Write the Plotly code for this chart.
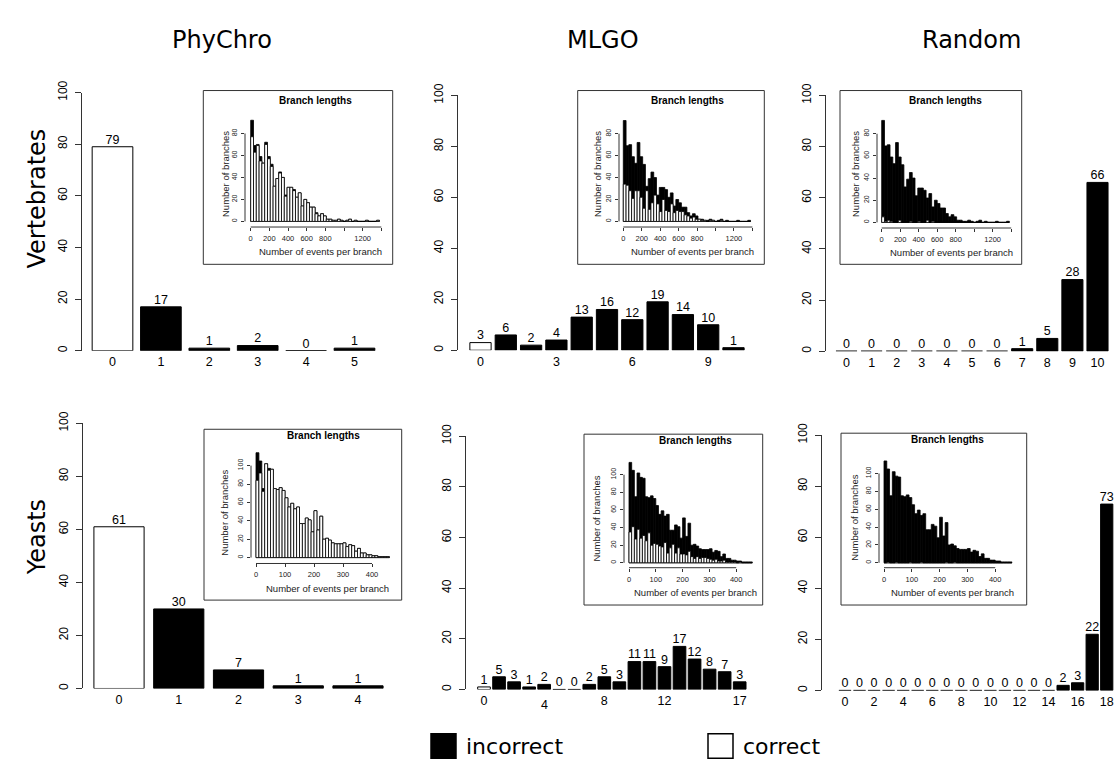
import numpy as np
import plotly.graph_objects as go

W, H = 1118, 770

# ---------------- data ----------------
col_titles = ["PhyChro", "MLGO", "Random"]
row_titles = ["Vertebrates", "Yeasts"]

phychro_vert = [79, 17, 1, 2, 0, 1]
mlgo_vert = [3, 6, 2, 4, 13, 16, 12, 19, 14, 10, 1]
random_vert = [0, 0, 0, 0, 0, 0, 0, 1, 5, 28, 66]
phychro_yeast = [61, 30, 7, 1, 1]
mlgo_yeast = [1, 5, 3, 1, 2, 0, 0, 2, 5, 3, 11, 11, 9, 17, 12, 8, 7, 3]
random_yeast = [0, 0, 0, 0, 0, 0, 0, 0, 0, 0, 0, 0, 0, 0, 0, 2, 3, 22, 73]

phychro_vert_ticks = ["0", "1", "2", "3", "4", "5"]
mlgo_vert_ticks = ["0", "", "", "3", "", "", "6", "", "", "9", ""]
random_vert_ticks = ["0", "1", "2", "3", "4", "5", "6", "7", "8", "9", "10"]
phychro_yeast_ticks = ["0", "1", "2", "3", "4"]
mlgo_yeast_ticks = ["0", "", "", "", "", "", "", "", "8", "", "", "", "12", "", "", "", "", "17"]
mlgo_yeast_low_tick = (4, "4")   # this label sits slightly lower in the original
random_yeast_ticks = ["0", "", "2", "", "4", "", "6", "", "8", "", "10", "", "12", "", "14", "", "16", "", "18"]

# inset histograms (branch lengths)
vert_bin_width = 30
vert_total = [92, 69, 70, 59, 53, 72, 59, 52, 32, 39, 45, 40, 24, 31, 31, 29, 22, 26, 14, 20,
              17, 13, 13, 8, 5, 7, 5, 2, 2, 1, 1, 2, 1, 0, 1, 2, 0, 1, 0, 0, 0, 1, 0, 0, 0, 1]
vert_correct_phychro = [77, 63, 69, 55, 53, 70, 57, 50, 32, 39, 44, 40, 23, 31, 31, 28, 22, 26, 14, 20,
                        17, 13, 13, 7, 5, 7, 5, 2, 2, 1, 1, 2, 1, 0, 1, 2, 0, 1, 0, 0, 0, 1, 0, 0, 0, 1]
vert_correct_mlgo = [34, 33, 28, 21, 28, 28, 22, 12, 28, 11, 17, 24, 16, 9, 20, 10, 9, 16, 8, 10,
                     9, 9, 6, 5, 3, 4, 2, 2, 1, 1, 0, 1, 1, 0, 0, 1, 0, 0, 0, 0, 0, 0, 0, 0, 0, 0]
vert_correct_random = [5, 1, 2, 1, 0, 0, 2, 0, 0, 0, 1, 0, 0, 1, 0, 0, 2, 0, 1, 0,
                       0, 0, 0, 0, 0, 0, 0, 0, 0, 0, 0, 0, 0, 0, 0, 0, 0, 0, 0, 0, 0, 0, 0, 0, 0, 0]

yeast_bin_width = 10
yeast_total = [114, 105, 75, 102, 97, 96, 75, 74, 76, 73, 65, 55, 59, 53, 55, 37, 37, 43, 41, 28,
               51, 30, 45, 20, 21, 19, 16, 15, 15, 15, 16, 12, 14, 13, 7, 10, 5, 5, 3, 3, 2, 2, 1, 1, 1, 1]
yeast_correct_phychro = [84, 92, 72, 102, 95, 96, 75, 74, 76, 73, 65, 55, 59, 53, 55, 37, 37, 43, 41, 28,
                         51, 30, 45, 20, 21, 19, 16, 15, 15, 15, 16, 12, 14, 13, 7, 10, 5, 5, 3, 3, 2, 2, 1, 1, 1, 1]
yeast_correct_mlgo = [35, 41, 27, 38, 28, 31, 25, 34, 20, 22, 21, 19, 18, 23, 11, 17, 21, 11, 17, 10,
                      10, 9, 13, 7, 5, 7, 5, 6, 6, 5, 4, 3, 4, 2, 2, 3, 1, 1, 1, 1, 0, 1, 0, 0, 0, 0]
yeast_correct_random = [0, 1, 0, 0, 1, 0, 0, 0, 0, 1, 0, 0, 0, 1, 0, 0, 0, 0, 0, 0,
                        0, 0, 1, 0, 0, 1, 0, 0, 0, 0, 0, 0, 0, 0, 0, 0, 0, 0, 0, 0, 0, 0, 0, 0, 0, 0]

main_y_ticks = [0, 20, 40, 60, 80, 100]
vert_x_ticks = [0, 200, 400, 600, 800, 1000, 1200, 1400]
vert_x_labels = ["0", "200", "400", "600", "800", "", "1200", ""]
vert_y_ticks = [0, 20, 40, 60, 80]
yeast_x_ticks = [0, 100, 200, 300, 400]
yeast_y_ticks = [0, 20, 40, 60, 80, 100]

# ---------------- layout geometry (pixels) ----------------
MAIN_FONT = "Liberation Sans, Arial, sans-serif"
TITLE_FONT = "DejaVu Sans, sans-serif"

main_panels = [
    dict(vals=phychro_vert, ticks=phychro_vert_ticks, ax=81.5, c0=112.5, s=48.4, right=390, y0=345, y100=82),
    dict(vals=mlgo_vert, ticks=mlgo_vert_ticks, ax=458, c0=480.5, s=25.3, right=755, y0=344.5, y100=85),
    dict(vals=random_vert, ticks=random_vert_ticks, ax=826, c0=846.5, s=25.1, right=1116, y0=345.5, y100=85),
    dict(vals=phychro_yeast, ticks=phychro_yeast_ticks, ax=82.5, c0=119, s=59.75, right=395, y0=689, y100=419),
    dict(vals=mlgo_yeast, ticks=mlgo_yeast_ticks, ax=466, c0=484, s=15.04, right=755, y0=690, y100=432),
    dict(vals=random_yeast, ticks=random_yeast_ticks, ax=821.7, c0=845, s=14.54, right=1117, y0=691, y100=431),
]

insets = [
    dict(total=vert_total, corr=vert_correct_phychro, bw=vert_bin_width, xt=vert_x_ticks, xl=vert_x_labels,
         yt=vert_y_ticks, x0=250.7, kx=0.0933, y0=213.3, ky=1.12, axL=245, axB=219, xmax=1450, ymax=97,
         box=(203.3, 80, 392.7, 257), title=(315, 90), ylab=(225, 165)),
    dict(total=vert_total, corr=vert_correct_mlgo, bw=vert_bin_width, xt=vert_x_ticks, xl=vert_x_labels,
         yt=vert_y_ticks, x0=623.3, kx=0.0922, y0=213.3, ky=1.117, axL=619, axB=219, xmax=1450, ymax=97,
         box=(577.7, 80, 764.3, 257), title=(687, 90), ylab=(597, 165)),
    dict(total=vert_total, corr=vert_correct_random, bw=vert_bin_width, xt=vert_x_ticks, xl=vert_x_labels,
         yt=vert_y_ticks, x0=881.7, kx=0.0925, y0=214.3, ky=1.129, axL=877, axB=220, xmax=1450, ymax=97,
         box=(840, 80, 1021.7, 257), title=(945, 90), ylab=(855, 165)),
    dict(total=yeast_total, corr=yeast_correct_phychro, bw=yeast_bin_width, xt=yeast_x_ticks,
         xl=[str(v) for v in yeast_x_ticks], yt=yeast_y_ticks, x0=256, kx=0.29, y0=555.7, ky=0.937,
         axL=251, axB=561.7, xmax=475, ymax=118, box=(204, 425, 401.7, 599), title=(323, 431), ylab=(225, 510)),
    dict(total=yeast_total, corr=yeast_correct_mlgo, bw=yeast_bin_width, xt=yeast_x_ticks,
         xl=[str(v) for v in yeast_x_ticks], yt=yeast_y_ticks, x0=629, kx=0.268, y0=561, ky=0.897,
         axL=624, axB=566, xmax=475, ymax=118, box=(584, 430, 762.7, 604), title=(695, 436), ylab=(597, 516)),
    dict(total=yeast_total, corr=yeast_correct_random, bw=yeast_bin_width, xt=yeast_x_ticks,
         xl=[str(v) for v in yeast_x_ticks], yt=yeast_y_ticks, x0=884, kx=0.278, y0=561, ky=0.91,
         axL=879, axB=566, xmax=475, ymax=118, box=(841, 429, 1026.7, 604), title=(947, 435), ylab=(855, 515)),
]


def fx(px):
    return px / W


def fy(py):
    return 1 - py / H


fig = go.Figure()
layout = dict(width=W, height=H, margin=dict(l=0, r=0, t=0, b=0),
              paper_bgcolor="white", plot_bgcolor="rgba(0,0,0,0)",
              showlegend=False, barmode="overlay", bargap=0, hovermode=False)
shapes = []
annotations = []

# ---------------- main bar panels ----------------
for i, p in enumerate(main_panels):
    k = i + 1
    xa = "x" if k == 1 else f"x{k}"
    ya = "y" if k == 1 else f"y{k}"
    n = len(p["vals"])
    xs = list(range(n))
    colors = ["white" if j == 0 else "black" for j in range(n)]
    fig.add_trace(go.Bar(x=xs, y=p["vals"], width=0.84, marker=dict(color=colors, line=dict(color="black", width=1)),
                         xaxis=xa, yaxis=ya, hoverinfo="skip"))
    fig.add_trace(go.Scatter(x=xs, y=p["vals"], text=[str(v) for v in p["vals"]], mode="text",
                             textposition="top center", cliponaxis=False,
                             textfont=dict(family=MAIN_FONT, size=12.5, color="black"),
                             xaxis=xa, yaxis=ya, hoverinfo="skip"))
    layout[f"xaxis{'' if k == 1 else k}"] = dict(
        domain=[fx(p["ax"]), fx(p["right"])],
        range=[(p["ax"] - p["c0"]) / p["s"], (p["right"] - p["c0"]) / p["s"]],
        anchor=ya, showgrid=False, zeroline=False, showline=False, ticks="",
        tickmode="array", tickvals=xs, ticktext=p["ticks"],
        tickfont=dict(family=MAIN_FONT, size=12.5, color="black"), ticklabelstandoff=2)
    layout[f"yaxis{'' if k == 1 else k}"] = dict(
        domain=[fy(p["y0"]), fy(p["y100"])], range=[0, 100], anchor=xa,
        showgrid=False, zeroline=False, showline=True, linecolor="#333", linewidth=1,
        ticks="outside", ticklen=6, tickcolor="#333", tickwidth=1,
        tickmode="array", tickvals=main_y_ticks, tickangle=-90,
        tickfont=dict(family=MAIN_FONT, size=12, color="black"), ticklabelstandoff=3)

# the slightly lowered "4" label of the yeast MLGO panel
annotations.append(dict(text=mlgo_yeast_low_tick[1], xref="x5", yref="paper", x=mlgo_yeast_low_tick[0],
                        y=fy(706), showarrow=False, xanchor="center", yanchor="middle",
                        font=dict(family=MAIN_FONT, size=12.5, color="black")))

# ---------------- insets ----------------
for i, q in enumerate(insets):
    k = i + 7
    xa, ya = f"x{k}", f"y{k}"
    nb = len(q["total"])
    centers = np.arange(nb) * q["bw"] + q["bw"] / 2
    for vals, col in ((q["total"], "black"), (q["corr"], "white")):
        fig.add_trace(go.Bar(x=centers, y=vals, width=q["bw"],
                             marker=dict(color=col, line=dict(color="black", width=0.8)),
                             xaxis=xa, yaxis=ya, hoverinfo="skip"))
    xr = q["x0"] + q["xmax"] * q["kx"]
    ytop = q["y0"] - q["ymax"] * q["ky"]
    layout[f"xaxis{k}"] = dict(
        domain=[fx(q["axL"]), fx(xr)],
        range=[(q["axL"] - q["x0"]) / q["kx"], q["xmax"]],
        anchor=ya, showgrid=False, zeroline=False, showline=False,
        ticks="outside", ticklen=3, tickcolor="#333", tickwidth=1,
        tickmode="array", tickvals=q["xt"], ticktext=q["xl"],
        tickfont=dict(family=MAIN_FONT, size=7.5, color="#222"), ticklabelstandoff=1)
    layout[f"yaxis{k}"] = dict(
        domain=[fy(q["axB"]), fy(ytop)],
        range=[(q["y0"] - q["axB"]) / q["ky"], q["ymax"]],
        anchor=xa, showgrid=False, zeroline=False, showline=False,
        ticks="outside", ticklen=3, tickcolor="#333", tickwidth=1,
        tickmode="array", tickvals=q["yt"], tickangle=-90,
        tickfont=dict(family=MAIN_FONT, size=7, color="#222"), ticklabelstandoff=1)
    shapes.append(dict(type="line", xref=xa, yref=f"{ya} domain", x0=q["xt"][0], x1=q["xt"][-1], y0=0, y1=0,
                       line=dict(color="#333", width=1)))
    shapes.append(dict(type="line", xref=f"{xa} domain", yref=ya, x0=0, x1=0, y0=q["yt"][0], y1=q["yt"][-1],
                       line=dict(color="#333", width=1)))
    bx0, by0, bx1, by1 = q["box"]
    shapes.append(dict(type="rect", xref="paper", yref="paper", x0=fx(bx0), x1=fx(bx1), y0=fy(by1), y1=fy(by0),
                       line=dict(color="#333", width=1), fillcolor="rgba(0,0,0,0)"))
    annotations.append(dict(text="<b>Branch lengths</b>", xref="paper", yref="paper",
                            x=fx(q["title"][0]), y=fy(q["title"][1]), showarrow=False,
                            xanchor="center", yanchor="middle",
                            font=dict(family=MAIN_FONT, size=10, color="black")))
    annotations.append(dict(text="Number of branches", xref="paper", yref="paper",
                            x=fx(q["ylab"][0]), y=fy(q["ylab"][1]), showarrow=False, textangle=-90,
                            xanchor="center", yanchor="middle",
                            font=dict(family=MAIN_FONT, size=9.5, color="#222")))
    annotations.append(dict(text="Number of events per branch", xref="paper", yref="paper",
                            x=fx((q["axL"] + xr) / 2 + 5), y=fy(q["axB"] + 25), showarrow=False,
                            xanchor="center", yanchor="middle",
                            font=dict(family=MAIN_FONT, size=9.5, color="#222")))

# ---------------- titles ----------------
for t, xp in zip(col_titles, [222, 603, 971]):
    annotations.append(dict(text=t, xref="paper", yref="paper", x=fx(xp), y=fy(29), showarrow=False,
                            xanchor="center", yanchor="middle", font=dict(family=TITLE_FONT, size=24, color="black")))
for t, yp in zip(row_titles, [190, 535]):
    annotations.append(dict(text=t, xref="paper", yref="paper", x=fx(37), y=fy(yp), showarrow=False, textangle=-90,
                            xanchor="center", yanchor="middle", font=dict(family=TITLE_FONT, size=24, color="black")))

# ---------------- legend ----------------
legend_items = [("incorrect", "black", 431), ("correct", "white", 708)]
for label, col, xp in legend_items:
    shapes.append(dict(type="rect", xref="paper", yref="paper", x0=fx(xp), x1=fx(xp + 25), y0=fy(760), y1=fy(735),
                       line=dict(color="black", width=1.5), fillcolor=col))
    annotations.append(dict(text=label, xref="paper", yref="paper", x=fx(xp + 33), y=fy(748), showarrow=False,
                            xanchor="left", yanchor="middle", font=dict(family=TITLE_FONT, size=22, color="black")))

layout["shapes"] = shapes
layout["annotations"] = annotations
fig.update_layout(**layout)
fig.write_html("out.html", config={"displayModeBar": False, "staticPlot": True},
               post_script="document.body.style.margin='0';document.body.style.overflow='hidden';")
